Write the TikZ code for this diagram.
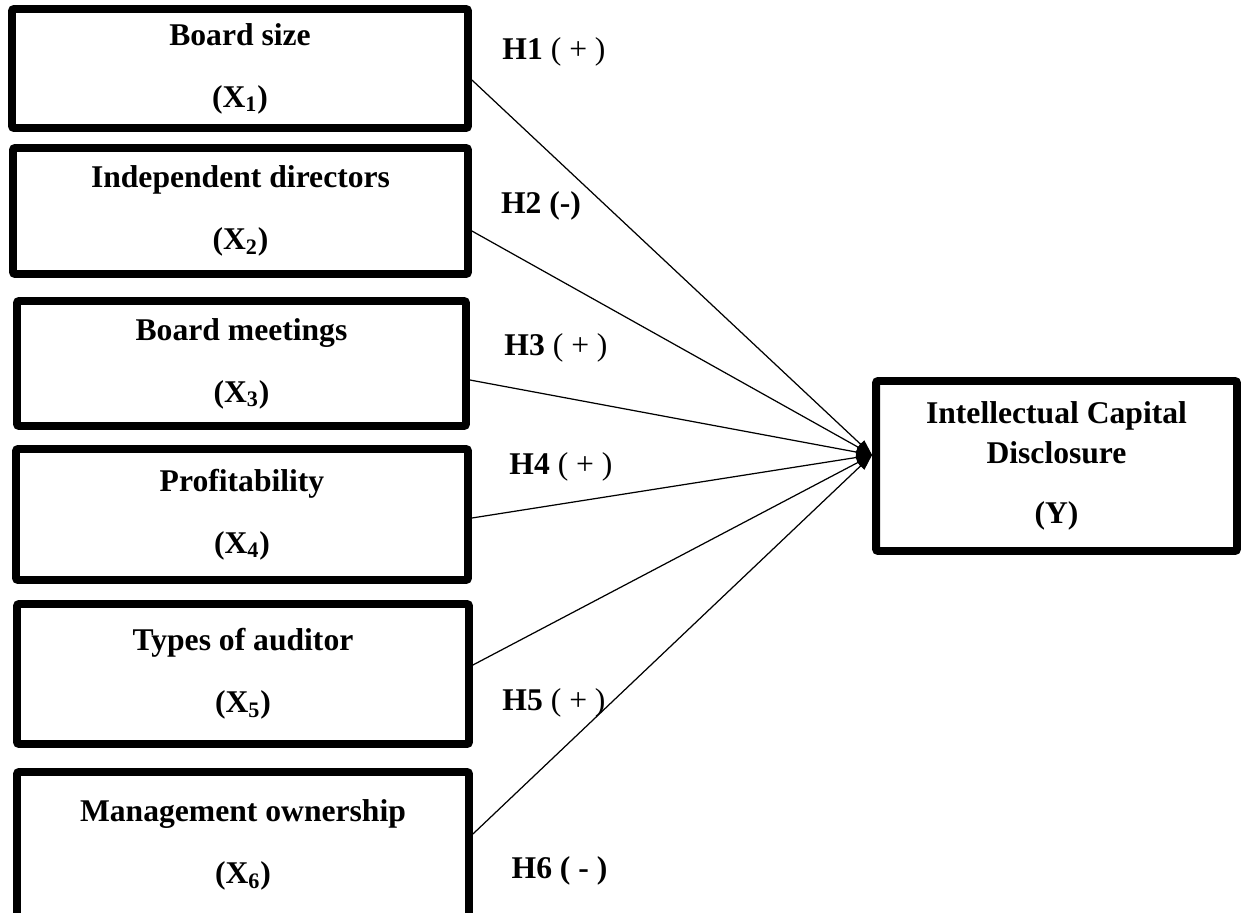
\documentclass[tikz,border=0pt]{standalone}
\usepackage{fontspec}
\setmainfont{Liberation Serif}
\usetikzlibrary{arrows.meta, calc}
\tikzset{
  varbox/.style={rectangle, draw=black, line width=4.5pt, rounded corners=1.2pt,
                 align=center, inner sep=0pt,
                 font=\fontsize{18}{21.6}\selectfont\bfseries},
  hyp/.style={inner sep=0pt, font=\fontsize{18}{21.6}\selectfont},
  arr/.style={-{Triangle[length=9pt, width=6pt]}, line width=0.7pt},
}

\begin{document}
\begin{tikzpicture}[x=0.02cm, y=-0.02cm]
  \useasboundingbox (0,0) rectangle (1246,912);

  % Independent variables
  \node[varbox, minimum width=9.12cm, minimum height=2.38cm] (x1) at (240,68.5)
    {Board size\\[13.6pt](X\textsubscript{1})};
  \node[varbox, minimum width=9.10cm, minimum height=2.52cm] (x2) at (240.5,211)
    {Independent directors\\[13.6pt](X\textsubscript{2})};
  \node[varbox, minimum width=8.98cm, minimum height=2.50cm] (x3) at (241.5,363.5)
    {Board meetings\\[13.6pt](X\textsubscript{3})};
  \node[varbox, minimum width=9.04cm, minimum height=2.62cm] (x4) at (242,514.5)
    {Profitability\\[13.6pt](X\textsubscript{4})};
  \node[varbox, minimum width=9.04cm, minimum height=2.80cm] (x5) at (243,674)
    {Types of auditor\\[13.6pt](X\textsubscript{5})};
  \node[varbox, minimum width=9.04cm, minimum height=2.92cm] (x6) at (243,845)
    {Management ownership\\[13.6pt](X\textsubscript{6})};

  % Dependent variable
  \node[varbox, minimum width=7.22cm, minimum height=3.40cm] (y) at (1056.5,466)
    {Intellectual Capital\\[1.1pt]Disclosure\\[12.4pt](Y)};
  \coordinate (tip) at ($(y.west)+(0,-11)$);

  % Hypotheses
  \draw[arr] ($(x1.east)+(0,11.5)$) -- (tip);
  \draw[arr] ($(x2.east)+(0,20)$) -- (tip);
  \draw[arr] ($(x3.east)+(0,16.5)$) -- (tip);
  \draw[arr] ($(x4.east)+(0,3.5)$) -- (tip);
  \draw[arr] ($(x5.east)+(0,-9)$) -- (tip);
  \draw[arr] ($(x6.east)+(0,-11)$) -- (tip);

  \node[hyp] (h1) at (554,52)  {\textbf{H1} ( + )};
  \node[hyp] (h2) at (541,206) {\textbf{H2 (-)}};
  \node[hyp] (h3) at (556,348) {\textbf{H3} ( + )};
  \node[hyp] (h4) at (561,467) {\textbf{H4} ( + )};
  \node[hyp] (h5) at (554,703) {\textbf{H5} ( + )};
  \node[hyp] (h6) at (559.5,871) {\textbf{H6 ( - )}};
\end{tikzpicture}
\end{document}
